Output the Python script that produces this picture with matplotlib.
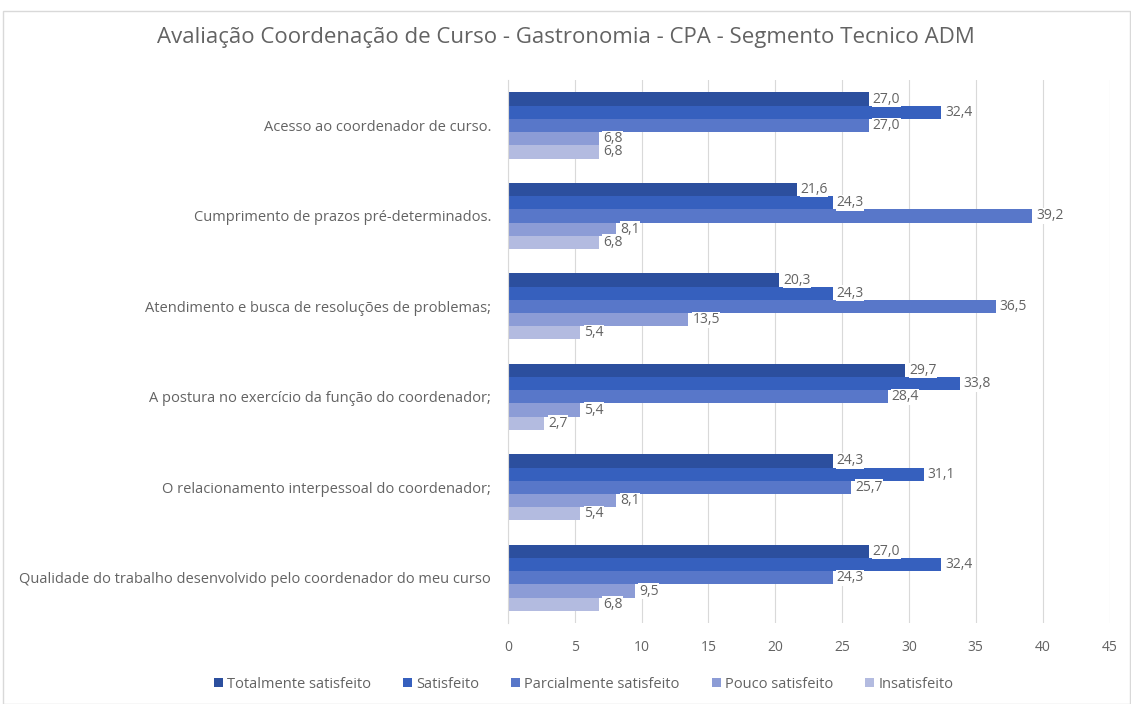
import matplotlib.pyplot as plt
import numpy as np
from matplotlib.patches import Rectangle

plt.rcParams['font.family'] = ['Open Sans', 'DejaVu Sans']

categories = [
    "Acesso ao coordenador de curso.",
    "Cumprimento de prazos pré-determinados.",
    "Atendimento e busca de resoluções de problemas;",
    "A postura no exercício da função do coordenador;",
    "O relacionamento interpessoal do coordenador;",
    "Qualidade do trabalho desenvolvido pelo coordenador do meu curso",
]
series = ["Totalmente satisfeito", "Satisfeito", "Parcialmente satisfeito",
          "Pouco satisfeito", "Insatisfeito"]

totalmente = [27.0, 21.6, 20.3, 29.7, 24.3, 27.0]
satisfeito = [32.4, 24.3, 24.3, 33.8, 31.1, 32.4]
parcialmente = [27.0, 39.2, 36.5, 28.4, 25.7, 24.3]
pouco = [6.8, 8.1, 13.5, 5.4, 8.1, 9.5]
insatisfeito = [6.8, 6.8, 5.4, 2.7, 5.4, 6.8]

values = [totalmente, satisfeito, parcialmente, pouco, insatisfeito]
colors = ["#2C4F9E", "#3660BE", "#5877C9", "#8C9CD6", "#B3BBE0"]
txt = "#636363"

fig = plt.figure(figsize=(11.31, 7.04), dpi=100)
ax = fig.add_axes([0.449, 0.115, 0.532, 0.771])

y = np.arange(len(categories))
h = 0.146
for j, (name, vals, c) in enumerate(zip(series, values, colors)):
    pos = y + (j - 2) * h
    ax.barh(pos, vals, height=h, color=c, label=name, zorder=2)
    for p, v in zip(pos, vals):
        ax.text(v + 0.3, p, f"{v:.1f}".replace(".", ","), va="center", ha="left",
                fontsize=10, color=txt, zorder=3,
                bbox=dict(facecolor="white", edgecolor="none", pad=0.3))

ax.set_yticks(y)
ax.set_yticklabels(categories, fontsize=10.5, color=txt)
ax.set_ylim(len(categories) - 0.5, -0.5)
ax.set_xlim(0, 45)
ax.set_xticks(range(0, 50, 5))
ax.tick_params(axis="x", colors=txt, labelsize=10, length=0, pad=12)
ax.tick_params(axis="y", length=0, pad=12)
ax.grid(axis="x", color="#D9D9D9", linewidth=0.8, zorder=0)
for s in ["top", "right", "bottom"]:
    ax.spines[s].set_visible(False)
ax.spines["left"].set_color("#D9D9D9")

fig.suptitle("Avaliação Coordenação de Curso - Gastronomia - CPA - Segmento Tecnico ADM",
             x=0.5, y=0.962, fontsize=16, color=txt)

fig.legend(loc="center", bbox_to_anchor=(0.516, 0.028), ncol=5, frameon=False,
           fontsize=10.5, labelcolor=txt, handlelength=0.6, handleheight=0.6,
           columnspacing=2.2, handletextpad=0.3)

fig.patches.append(Rectangle((0.003, 0.0), 0.996, 0.985, transform=fig.transFigure,
                             fill=False, edgecolor="#D9D9D9", linewidth=1))

fig.savefig("out.png", dpi=100)
